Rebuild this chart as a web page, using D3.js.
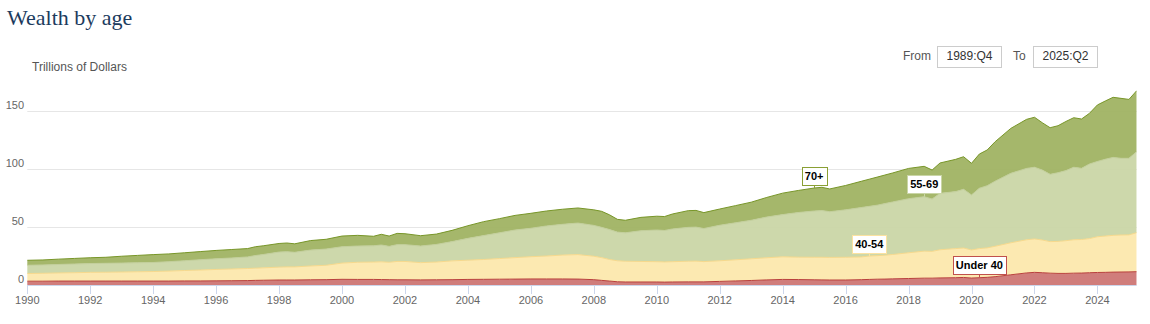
<!DOCTYPE html>
<html>
<head>
<meta charset="utf-8">
<script src="https://cdn.jsdelivr.net/npm/d3@7/dist/d3.min.js"></script>
<style>
  html, body { margin: 0; padding: 0; background: #fff; }
  svg { display: block; }
</style>
</head>
<body>
<svg id="chart" width="1150" height="324"></svg>
<script>
// Household net worth by age group of household head, trillions of dollars
const quarters = [
  "1989:Q4","1990:Q1","1990:Q3","1991:Q1","1991:Q3","1992:Q1","1992:Q3","1993:Q1","1993:Q3","1994:Q1",
  "1994:Q3","1995:Q1","1995:Q3","1996:Q1","1996:Q3","1997:Q1","1997:Q2","1997:Q3","1998:Q1","1998:Q2",
  "1998:Q3","1999:Q1","1999:Q3","2000:Q1","2000:Q3","2001:Q1","2001:Q2","2001:Q3","2001:Q4","2002:Q1",
  "2002:Q3","2003:Q1","2003:Q3","2004:Q1","2004:Q3","2005:Q1","2005:Q3","2006:Q1","2006:Q3","2007:Q1",
  "2007:Q3","2008:Q1","2008:Q2","2008:Q3","2008:Q4","2009:Q1","2009:Q3","2010:Q1","2010:Q2","2010:Q3",
  "2011:Q1","2011:Q2","2011:Q3","2012:Q1","2012:Q3","2013:Q1","2013:Q3","2014:Q1","2014:Q3","2015:Q1",
  "2015:Q2","2015:Q3","2016:Q1","2016:Q3","2016:Q4","2017:Q1","2017:Q2","2017:Q3","2018:Q1","2018:Q3",
  "2018:Q4","2019:Q1","2019:Q3","2019:Q4","2020:Q1","2020:Q2","2020:Q3","2020:Q4","2021:Q2","2021:Q4",
  "2022:Q1","2022:Q2","2022:Q3","2022:Q4","2023:Q1","2023:Q2","2023:Q3","2023:Q4","2024:Q1","2024:Q2",
  "2024:Q3","2024:Q4","2025:Q1","2025:Q2"
];

const under40 = [
  3.3,3.3,3.3,3.4,3.4,3.4,3.4,3.4,3.4,3.4,
  3.4,3.5,3.5,3.6,3.7,3.8,4.0,4.1,4.3,4.3,
  4.3,4.5,4.6,4.9,4.8,4.8,4.7,4.6,4.5,4.5,
  4.4,4.5,4.6,4.8,4.9,5.0,5.1,5.2,5.2,5.2,
  5.1,4.6,4.0,3.4,2.8,2.6,2.6,2.6,2.5,2.6,
  2.7,2.7,2.7,3.1,3.5,3.9,4.4,4.8,4.7,4.5,
  4.4,4.3,4.3,4.6,4.8,5.0,5.1,5.3,5.6,5.9,
  5.9,6.1,6.3,6.5,6.0,6.3,6.6,7.2,8.8,10.4,
  10.9,10.6,10.2,10.0,10.0,10.2,10.3,10.6,10.8,10.9,
  11.1,11.2,11.3,11.5
];

const age40to54 = [
  6.4,6.6,6.8,7.0,7.2,7.5,7.6,7.8,8.0,8.2,
  8.6,9.0,9.4,9.8,10.1,10.4,10.5,10.7,11.1,11.3,
  11.3,11.9,12.4,14.0,14.8,15.0,15.3,15.0,15.8,15.8,
  14.9,15.3,16.2,16.6,17.1,17.8,18.5,19.2,19.8,20.6,
  21.1,20.2,19.6,18.6,18.1,17.9,17.7,17.5,17.4,17.5,
  17.8,17.9,17.5,17.8,18.2,18.7,19.1,19.5,19.3,19.4,
  19.5,19.5,19.6,19.6,20.2,20.3,20.6,21.0,22.2,23.3,
  23.1,24.3,25.1,25.4,24.2,25.1,25.4,26.2,27.6,28.6,
  28.8,28.2,27.2,27.6,28.2,28.8,28.9,29.4,30.8,31.3,
  31.7,31.9,31.9,33.6
];

const age55to69 = [
  7.0,7.1,7.2,7.3,7.5,7.6,7.7,7.7,7.8,7.8,
  8.1,8.4,8.9,9.2,9.5,10.0,10.9,11.5,13.0,13.1,
  12.6,13.7,14.0,14.1,14.0,14.0,14.5,13.7,14.5,14.5,
  14.3,15.2,16.6,18.8,20.6,22.2,23.8,24.5,25.9,26.5,
  27.2,26.6,26.1,25.8,24.7,24.5,26.5,27.3,27.1,28.2,
  29.2,29.3,28.5,30.6,31.9,33.2,35.1,36.4,38.5,39.9,
  40.3,39.4,40.9,42.6,42.8,43.5,44.5,45.3,46.6,46.9,
  45.1,48.6,49.1,50.6,47.4,52.0,53.6,56.1,59.9,61.5,
  61.8,60.3,58.0,59.2,60.4,62.5,61.4,64.3,64.9,66.2,
  67.2,66.1,66.0,69.8
];

const age70plus = [
  4.2,4.3,4.3,4.6,4.8,5.0,5.2,5.9,6.3,6.8,
  6.7,6.9,7.0,7.2,7.3,7.2,7.6,7.5,7.4,7.5,
  7.3,8.2,8.4,9.2,9.2,8.2,9.2,8.9,9.7,9.4,
  8.9,8.9,9.7,10.9,12.0,12.2,12.6,12.9,12.9,13.0,
  13.0,13.4,13.8,12.7,11.0,10.8,11.5,11.9,12.0,12.9,
  14.4,14.4,13.7,14.0,14.8,15.6,16.9,18.5,19.0,19.8,
  20.0,19.6,21.0,22.6,23.4,24.2,24.6,25.0,26.1,26.2,
  25.0,26.2,27.8,28.1,27.3,29.5,30.8,34.0,38.7,42.3,
  43.1,40.8,40.2,40.5,42.4,42.7,42.5,43.7,48.7,50.2,
  51.8,51.7,50.8,52.6
];

const seriesNames = ["Under 40", "40-54", "55-69", "70+"];
const labelQuarters = ["2020:Q2", "2016:Q4", "2018:Q3", "2015:Q1"];
const yTicks = [0, 50, 100, 150];

const fills   = ["#cc7371", "#fce7ab", "#c9d5a5", "#9eb260"];
const strokes = ["#b9403c", "#f7d98c", "#c3cf9c", "#789629"];
const borders = ["#c0504d", "#fbe2a0", "#c9d5a5", "#8aa034"];

const parseQuarter = q => {
  const [yr, qq] = q.split(":Q");
  return new Date(+yr, (+qq - 1) * 3, 1);
};

const rows = quarters.map((q, i) => ({
  date: parseQuarter(q),
  "Under 40": under40[i],
  "40-54": age40to54[i],
  "55-69": age55to69[i],
  "70+": age70plus[i]
}));

const svg = d3.select("#chart");
const left = 27.3, right = 1136.7, bottom = 285, top150 = 111;

const x = d3.scaleTime()
  .domain([new Date(1990, 0, 1), parseQuarter(quarters[quarters.length - 1])])
  .range([left, right]);
const y = d3.scaleLinear().domain([0, 150]).range([bottom, top150]);

// Title and y-axis title
svg.append("text")
  .attr("x", 7).attr("y", 25)
  .attr("font-family", "'Liberation Serif', 'Times New Roman', serif")
  .attr("font-size", 22).attr("fill", "#1c3b5e")
  .text("Wealth by age");

svg.append("text")
  .attr("x", 32).attr("y", 71)
  .attr("font-family", "'Liberation Sans', Arial, sans-serif")
  .attr("font-size", 12).attr("fill", "#555")
  .text("Trillions of Dollars");

// Date range boxes
const rangeG = svg.append("g")
  .attr("font-family", "'Liberation Sans', Arial, sans-serif")
  .attr("font-size", 12);
rangeG.append("text").attr("x", 903).attr("y", 60).attr("fill", "#555").text("From");
rangeG.append("rect").attr("x", 937.5).attr("y", 46.5).attr("width", 64).attr("height", 21)
  .attr("fill", "#fff").attr("stroke", "#ccc");
rangeG.append("text").attr("x", 969.5).attr("y", 60).attr("text-anchor", "middle")
  .attr("fill", "#333").text(quarters[0]);
rangeG.append("text").attr("x", 1013).attr("y", 60).attr("fill", "#555").text("To");
rangeG.append("rect").attr("x", 1033.5).attr("y", 46.5).attr("width", 64).attr("height", 21)
  .attr("fill", "#fff").attr("stroke", "#ccc");
rangeG.append("text").attr("x", 1065.5).attr("y", 60).attr("text-anchor", "middle")
  .attr("fill", "#333").text(quarters[quarters.length - 1]);

// Gridlines and y labels
const yAxis = svg.append("g");
yAxis.selectAll("line").data(yTicks.filter(d => d > 0)).join("line")
  .attr("x1", left).attr("x2", right)
  .attr("y1", d => Math.round(y(d)) + 0.5).attr("y2", d => Math.round(y(d)) + 0.5)
  .attr("stroke", "#e6e6e6");
yAxis.selectAll("text").data(yTicks).join("text")
  .attr("x", 24).attr("y", d => y(d) - 2)
  .attr("text-anchor", "end")
  .attr("font-family", "'Liberation Sans', Arial, sans-serif")
  .attr("font-size", 11).attr("fill", "#666")
  .text(d => d);

// Stacked areas
svg.append("clipPath").attr("id", "plot")
  .append("rect").attr("x", left).attr("y", 0).attr("width", right - left).attr("height", bottom);

const stacked = d3.stack().keys(seriesNames)(rows);

const area = d3.area()
  .x(d => x(d.data.date))
  .y0(d => y(d[0]))
  .y1(d => y(d[1]));
const topLine = d3.line()
  .x(d => x(d.data.date))
  .y(d => y(d[1]));

const plot = svg.append("g").attr("clip-path", "url(#plot)");
plot.selectAll("path.area").data(stacked).join("path")
  .attr("class", "area")
  .attr("d", area)
  .attr("fill", (d, i) => fills[i])
  .attr("fill-opacity", 0.93);
plot.selectAll("path.edge").data(stacked).join("path")
  .attr("class", "edge")
  .attr("d", topLine)
  .attr("fill", "none")
  .attr("stroke", (d, i) => strokes[i])
  .attr("stroke-width", 1);

// X axis
const xAxis = svg.append("g");
xAxis.append("line")
  .attr("x1", left).attr("x2", right)
  .attr("y1", bottom + 0.5).attr("y2", bottom + 0.5)
  .attr("stroke", "#ccd6eb");
const xTicks = d3.timeYear.every(2).range(new Date(1990, 0, 1), new Date(2025, 0, 2));
xAxis.selectAll("line.tick").data(xTicks).join("line")
  .attr("class", "tick")
  .attr("x1", d => Math.round(x(d)) + 0.5).attr("x2", d => Math.round(x(d)) + 0.5)
  .attr("y1", bottom).attr("y2", bottom + 9)
  .attr("stroke", "#ccd6eb");
xAxis.selectAll("text").data(xTicks).join("text")
  .attr("x", d => x(d)).attr("y", 304)
  .attr("text-anchor", "middle")
  .attr("font-family", "'Liberation Sans', Arial, sans-serif")
  .attr("font-size", 11).attr("fill", "#666")
  .text(d => d3.timeFormat("%Y")(d));

// Series labels pointing at each series' upper edge
const labelG = svg.append("g")
  .attr("font-family", "'Liberation Sans', Arial, sans-serif")
  .attr("font-size", 11).attr("font-weight", "bold");
stacked.forEach((s, i) => {
  const idx = quarters.indexOf(labelQuarters[i]);
  const pt = s[idx];
  const px = x(pt.data.date), py = y(pt[1]);
  const g = labelG.append("g");
  const t = g.append("text")
    .attr("x", px).attr("y", py - 3.5 - 5)
    .attr("text-anchor", "middle").attr("fill", "#000")
    .text(seriesNames[i]);
  const w = t.node().getComputedTextLength() + 6;
  const bx = Math.round(px - w / 2) + 0.5, by = Math.round(py - 3.5 - 18) + 0.5;
  g.insert("rect", "text")
    .attr("x", bx).attr("y", by).attr("width", Math.round(w)).attr("height", 18)
    .attr("fill", "#fff").attr("stroke", borders[i]);
  g.insert("line", "rect")
    .attr("x1", Math.round(px) + 0.5).attr("x2", Math.round(px) + 0.5)
    .attr("y1", by + 18).attr("y2", py)
    .attr("stroke", borders[i]);
});
</script>
</body>
</html>
